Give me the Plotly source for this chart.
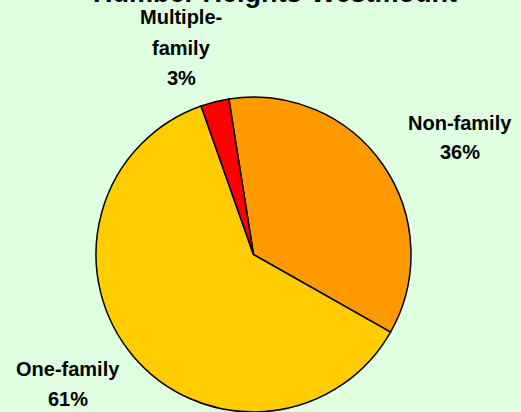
import plotly.graph_objects as go

# Data
categories = ["Non-family", "One-family", "Multiple-family"]
display_labels = ["Non-family", "One-family", "Multiple-\nfamily"]
values = [35.7, 61.4, 2.9]
colors = ["#FF9900", "#FFCC00", "#FF0000"]
title_text = "Humber Heights-Westmount"

W, H = 521, 412
total = sum(values)
pcts = [round(v / total * 100) for v in values]

fig = go.Figure()
fig.add_trace(go.Pie(
    labels=categories,
    values=values,
    sort=False,
    direction="clockwise",
    rotation=-9,
    marker=dict(colors=colors, line=dict(color="#000000", width=1.5)),
    textinfo="none",
    hoverinfo="label+percent",
    showlegend=False,
    domain=dict(x=[(253.5 - 157.5) / W, (253.5 + 157.5) / W],
                y=[0.0, (H - 97) / H]),
))

# label placement (layout positions, in pixels from top-left), one per category
label_pos = {
    "Non-family": (460, 123.5, 28),
    "One-family": (68, 369, 30),
    "Multiple-family": (181, 17, 30.5),
}
font = dict(family="Liberation Sans, Arial, sans-serif", size=20, color="#000000", weight="bold")
for cat, disp, p in zip(categories, display_labels, pcts):
    lines = disp.split("\n") + [f"{p}%"]
    cx, cy, sp = label_pos[cat]
    for i, ln in enumerate(lines):
        fig.add_annotation(
            x=cx / W, y=1 - (cy + i * sp) / H, xref="paper", yref="paper",
            text=ln, showarrow=False, xanchor="center", yanchor="middle",
            font=font,
        )

fig.add_annotation(
    x=275 / W, y=1 - (3.5 - 10.5) / H, xref="paper", yref="paper",
    text=title_text, showarrow=False, xanchor="center", yanchor="middle",
    font=dict(family="Liberation Sans, Arial, sans-serif", size=27, color="#000000", weight="bold"),
)

fig.update_layout(
    width=W, height=H,
    margin=dict(l=0, r=0, t=0, b=0),
    paper_bgcolor="#E0FFE0",
    plot_bgcolor="#E0FFE0",
)

fig.write_html("out.html")
